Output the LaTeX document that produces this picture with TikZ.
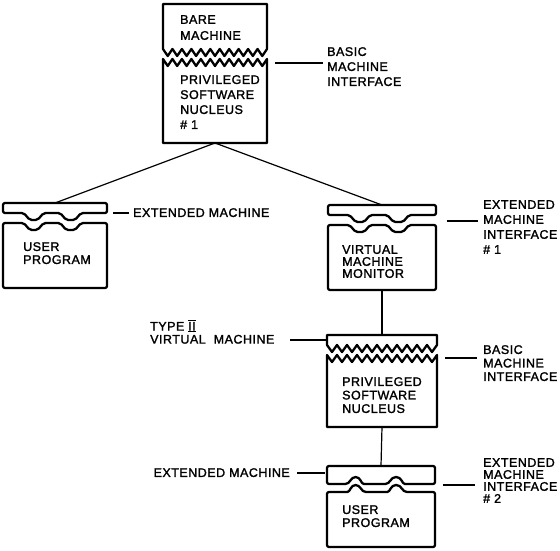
\documentclass[tikz,border=0pt]{standalone}
\usepackage{fontspec}
\setmainfont[LetterSpace=4,FakeBold=1.6]{Liberation Sans}
\newcommand\romtwo{{\setbox0\hbox{II}\rlap{\rule[-1.6pt]{\wd0}{1.2pt}}\rlap{\rule[\dimexpr\ht0+0.6pt\relax]{\wd0}{1.2pt}}\box0}}
\tikzset{
  box/.style={line width=2.3pt, line join=round},
  conn/.style={line width=1.2pt},
  lbl/.style={anchor=north west, inner sep=0pt, align=left, font=\fontsize{12.5}{15}\selectfont},
  pics/zigbox/.style n args={3}{code={
    \draw[box] (0,#2) -- (0,0) -- (#1,0) -- (#1,#2)
      \foreach \i in {1,...,22}{ -- ({#1-\i*#1/22},{#2+7*mod(\i,2)}) } -- cycle;
    \draw[box] (0,#3) -- (0,#2+10)
      \foreach \i in {1,...,22}{ -- ({\i*#1/22},{#2+10+7*mod(\i,2)}) } -- (#1,#3) -- cycle;
    \coordinate (-top) at ({#1/2},0);
    \coordinate (-bot) at ({#1/2},#3);
  }},
  pics/trapbox/.style n args={2}{code={
    \pgfmathsetmacro\aA{0.20*#1}\pgfmathsetmacro\bA{0.39*#1}
    \pgfmathsetmacro\aB{0.55*#1}\pgfmathsetmacro\bB{0.75*#1}
    \draw[box,rounded corners=2pt] (0,10) -- (0,0) -- (#1,0) -- (#1,10) -- (\bB,10) -- (\bB-6,17) -- (\aB+6,17) -- (\aB,10)
      -- (\bA,10) -- (\bA-6,17) -- (\aA+6,17) -- (\aA,10) -- cycle;
    \draw[box,rounded corners=2pt] (0,#2) -- (0,20) -- (\aA,20) -- (\aA+6,27) -- (\bA-6,27) -- (\bA,20) -- (\aB,20)
      -- (\aB+6,27) -- (\bB-6,27) -- (\bB,20) -- (#1,20) -- (#1,#2) -- cycle;
    \coordinate (-top) at ({#1/2},0);
    \coordinate (-bot) at ({#1/2},#2);
  }},
  pics/archbox/.style n args={2}{code={
    \pgfmathsetmacro\aA{0.17*#1}\pgfmathsetmacro\bA{0.36*#1}
    \pgfmathsetmacro\aB{0.54*#1}\pgfmathsetmacro\bB{0.74*#1}
    \pgfmathsetmacro\mA{(\aA+\bA)/2}\pgfmathsetmacro\mB{(\aB+\bB)/2}
    \draw[box,rounded corners=2pt] (0,18) -- (0,0) -- (#1,0) -- (#1,18) -- (\bB,18)
      {[rounded corners=0pt] .. controls (\bB-5,18) and (\bB-5,11) .. (\mB,11) .. controls (\aB+5,11) and (\aB+5,18) .. (\aB,18)}
      -- (\bA,18)
      {[rounded corners=0pt] .. controls (\bA-5,18) and (\bA-5,11) .. (\mA,11) .. controls (\aA+5,11) and (\aA+5,18) .. (\aA,18)}
      -- cycle;
    \draw[box,rounded corners=2pt] (0,#2) -- (0,26) -- (\aA,26)
      {[rounded corners=0pt] .. controls (\aA+5,26) and (\aA+5,19) .. (\mA,19) .. controls (\bA-5,19) and (\bA-5,26) .. (\bA,26)}
      -- (\aB,26)
      {[rounded corners=0pt] .. controls (\aB+5,26) and (\aB+5,19) .. (\mB,19) .. controls (\bB-5,19) and (\bB-5,26) .. (\bB,26)}
      -- (#1,26) -- (#1,#2) -- cycle;
    \coordinate (-top) at ({#1/2},0);
    \coordinate (-bot) at ({#1/2},#2);
  }},
}
\begin{document}
\begin{tikzpicture}[x=1pt,y=-1pt]
\useasboundingbox[fill=white] (0,0) rectangle (560,551);
% boxes
\pic (top) at (163,4) {zigbox={104}{45}{139}};
\pic (lup) at (3,203) {trapbox={104}{85}};
\pic (vmm) at (328,205) {trapbox={108}{85}};
\pic (nuc) at (327,335) {zigbox={110}{10}{92}};
\pic (bup) at (327,466) {archbox={108}{81}};
% box texts
\node[lbl,font=\fontsize{12.5}{16}\selectfont] (tbare) at (180,15) {BARE\\MACHINE};
\node[lbl] (tpsn1) at (180,75) {PRIVILEGED\\SOFTWARE\\NUCLEUS\\\# 1};
\node[lbl,font=\fontsize{12.5}{13}\selectfont] (tup1) at (23,242) {USER\\PROGRAM};
\node[lbl,font=\fontsize{12.5}{12}\selectfont] (tvmm) at (342,245) {VIRTUAL\\MACHINE\\MONITOR};
\node[lbl,font=\fontsize{12.5}{13.5}\selectfont] (tpsn2) at (342,377) {PRIVILEGED\\SOFTWARE\\NUCLEUS};
\node[lbl,font=\fontsize{12.5}{13}\selectfont] (tup2) at (342,505) {USER\\PROGRAM};
% connectors between boxes
\draw[conn] (top-bot) -- (lup-top);
\draw[conn] (top-bot) -- (vmm-top);
\draw[conn] (vmm-bot) -- (nuc-top);
\draw[conn] (nuc-bot) -- (bup-top);
% labels
\node[lbl] (lbmi1) at (327,47) {BASIC\\MACHINE\\INTERFACE};
\coordinate (a1) at (275,63); \coordinate (b1) at (323,63);
\draw[conn] (a1) -- (b1);
\node[lbl] (lem1) at (133,208) {EXTENDED MACHINE};
\coordinate (a2) at (113,213); \coordinate (b2) at (129,213);
\draw[conn] (a2) -- (b2);
\node[lbl] (lemi1) at (483,200) {EXTENDED\\MACHINE\\INTERFACE\\\# 1};
\coordinate (a3) at (447,221); \coordinate (b3) at (478,221);
\draw[conn] (a3) -- (b3);
\node[lbl,font=\fontsize{12.5}{13}\selectfont] (ltype) at (150,320) {TYPE \romtwo\\VIRTUAL\hspace{4pt} MACHINE};
\coordinate (a4) at (290,340); \coordinate (b4) at (327,340);
\draw[conn] (a4) -- (b4);
\node[lbl,font=\fontsize{12.5}{13.5}\selectfont] (lbmi2) at (483,345) {BASIC\\MACHINE\\INTERFACE};
\coordinate (a5) at (445,358); \coordinate (b5) at (477,358);
\draw[conn] (a5) -- (b5);
\node[lbl,anchor=north east] (lem2) at (290,468) {EXTENDED MACHINE};
\coordinate (a6) at (297,473); \coordinate (b6) at (325,473);
\draw[conn] (a6) -- (b6);
\node[lbl,font=\fontsize{12.5}{12}\selectfont] (lemi2) at (483,458) {EXTENDED\\MACHINE\\INTERFACE\\\# 2};
\coordinate (a7) at (443,485); \coordinate (b7) at (475,485);
\draw[conn] (a7) -- (b7);
\end{tikzpicture}
\end{document}
